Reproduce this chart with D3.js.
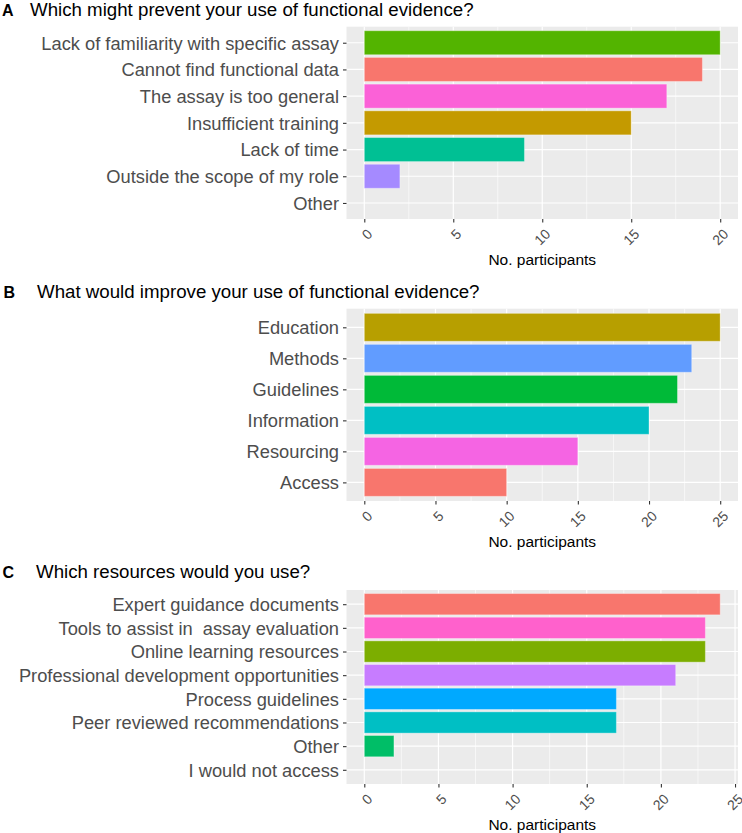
<!DOCTYPE html>
<html>
<head>
<meta charset="utf-8">
<script src="https://cdn.jsdelivr.net/npm/d3@7"></script>
<style>
  html, body { margin: 0; padding: 0; background: #ffffff; }
  svg { display: block; }
  text { font-family: "Liberation Sans", Arial, sans-serif; }
</style>
</head>
<body>
<svg id="chart" width="742" height="833"></svg>
<script>
// ---------- Data ----------
const titleA = "Which might prevent your use of functional evidence?";
const categoriesA = [
  "Lack of familiarity with specific assay",
  "Cannot find functional data",
  "The assay is too general",
  "Insufficient training",
  "Lack of time",
  "Outside the scope of my role",
  "Other"
];
const valuesA = [20, 19, 17, 15, 9, 2, 0];
const coloursA = ["#53B400", "#F8766D", "#FB61D7", "#C49A00", "#00C094", "#A58AFF", "#00B6EB"];

const titleB = "What would improve your use of functional evidence?";
const categoriesB = ["Education", "Methods", "Guidelines", "Information", "Resourcing", "Access"];
const valuesB = [25, 23, 22, 20, 15, 10];
const coloursB = ["#B79F00", "#619CFF", "#00BA38", "#00BFC4", "#F564E3", "#F8766D"];

const titleC = "Which resources would you use?";
const categoriesC = [
  "Expert guidance documents",
  "Tools to assist in  assay evaluation",
  "Online learning resources",
  "Professional development opportunities",
  "Process guidelines",
  "Peer reviewed recommendations",
  "Other",
  "I would not access"
];
const valuesC = [24, 23, 23, 21, 17, 17, 2, 0];
const coloursC = ["#F8766D", "#FF61CC", "#7CAE00", "#C77CFF", "#00A9FF", "#00BFC4", "#00BE67", "#CD9600"];

const axisTitle = "No. participants";

// ---------- Drawing ----------
const svg = d3.select("#chart");
const panelLeft = 346.5, panelRight = 738;

function drawPanel(cfg) {
  const g = svg.append("g");
  const maxV = d3.max(cfg.values);
  const x = d3.scaleLinear()
    .domain([-0.05 * maxV, maxV * 1.05])
    .range([panelLeft, panelRight]);
  const y = d3.scalePoint()
    .domain(cfg.categories)
    .range([cfg.top, cfg.bottom])
    .padding(0.6);
  const colour = d3.scaleOrdinal().domain(cfg.categories).range(cfg.colours);
  const step = y.step();
  const barH = step * 0.9;

  // panel background
  g.append("rect")
    .attr("x", panelLeft).attr("y", cfg.top)
    .attr("width", panelRight - panelLeft).attr("height", cfg.bottom - cfg.top)
    .attr("fill", "#EBEBEB");

  const majors = x.ticks(5);
  const minors = majors.slice(0, -1).map((d, i) => (d + majors[i + 1]) / 2)
    .filter(d => x(d) > panelLeft && x(d) < panelRight);
  const lastMinor = majors[majors.length - 1] + (majors[1] - majors[0]) / 2;
  if (x(lastMinor) < panelRight) minors.push(lastMinor);

  // minor vertical grid
  g.selectAll(".minor").data(minors).enter().append("line")
    .attr("x1", d => x(d)).attr("x2", d => x(d))
    .attr("y1", cfg.top).attr("y2", cfg.bottom)
    .attr("stroke", "#ffffff").attr("stroke-width", 0.6);
  // major vertical grid
  g.selectAll(".majorx").data(majors).enter().append("line")
    .attr("x1", d => x(d)).attr("x2", d => x(d))
    .attr("y1", cfg.top).attr("y2", cfg.bottom)
    .attr("stroke", "#ffffff").attr("stroke-width", 1.2);
  // major horizontal grid
  g.selectAll(".majory").data(cfg.categories).enter().append("line")
    .attr("x1", panelLeft).attr("x2", panelRight)
    .attr("y1", d => y(d)).attr("y2", d => y(d))
    .attr("stroke", "#ffffff").attr("stroke-width", 1.2);

  // bars
  g.selectAll(".bar").data(cfg.categories.map((c, i) => ({ c, v: cfg.values[i] })).filter(d => d.v > 0))
    .enter().append("rect")
    .attr("x", x(0))
    .attr("y", d => y(d.c) - barH / 2)
    .attr("width", d => x(d.v) - x(0))
    .attr("height", barH)
    .attr("fill", d => colour(d.c))
    .attr("stroke", "#ffffff").attr("stroke-opacity", 0.35).attr("stroke-width", 1);

  // y axis
  const yAxis = d3.axisLeft(y).tickSize(3.5).tickPadding(4);
  const ya = g.append("g").attr("transform", `translate(${panelLeft},0)`).call(yAxis);
  ya.select(".domain").remove();
  ya.selectAll(".tick line").attr("stroke", "#333333").attr("stroke-width", 1.1);
  ya.selectAll(".tick text")
    .attr("fill", "#4D4D4D").attr("font-size", "18.3px")
    .attr("font-family", "'Liberation Sans', Arial, sans-serif")
    .attr("dy", "0.35em").style("white-space", "pre");

  // x axis
  const xAxis = d3.axisBottom(x).tickValues(majors).tickSize(3.5).tickFormat(d3.format("d"));
  const xa = g.append("g").attr("transform", `translate(0,${cfg.bottom})`).call(xAxis);
  xa.select(".domain").remove();
  xa.selectAll(".tick line").attr("stroke", "#333333").attr("stroke-width", 1.1);
  xa.selectAll(".tick text")
    .attr("fill", "#4D4D4D").attr("font-size", "14px")
    .attr("font-family", "'Liberation Sans', Arial, sans-serif")
    .attr("text-anchor", "end")
    .attr("dy", "0.35em")
    .attr("y", 0)
    .attr("transform", "translate(5,12.5) rotate(-45)");

  // axis title
  g.append("text")
    .attr("x", (panelLeft + panelRight) / 2)
    .attr("y", cfg.bottom + 45.5)
    .attr("text-anchor", "middle")
    .attr("font-size", "15.5px")
    .attr("fill", "#000000")
    .text(axisTitle);

  // panel letter and title
  g.append("text")
    .attr("x", cfg.letterX).attr("y", cfg.titleY)
    .attr("font-size", "16px").attr("font-weight", "bold")
    .attr("fill", "#000000")
    .text(cfg.letter);
  g.append("text")
    .attr("x", cfg.titleX).attr("y", cfg.titleY)
    .attr("font-size", "18.7px")
    .attr("fill", "#000000")
    .text(cfg.title);
}

drawPanel({ letter: "A", title: titleA, categories: categoriesA, values: valuesA, colours: coloursA,
  top: 26.7, bottom: 219, letterX: 2, titleX: 30, titleY: 15.5 });
drawPanel({ letter: "B", title: titleB, categories: categoriesB, values: valuesB, colours: coloursB,
  top: 308.7, bottom: 501, letterX: 3.5, titleX: 37, titleY: 297.5 });
drawPanel({ letter: "C", title: titleC, categories: categoriesC, values: valuesC, colours: coloursC,
  top: 590, bottom: 784, letterX: 2.5, titleX: 36, titleY: 577.5 });
</script>
</body>
</html>
